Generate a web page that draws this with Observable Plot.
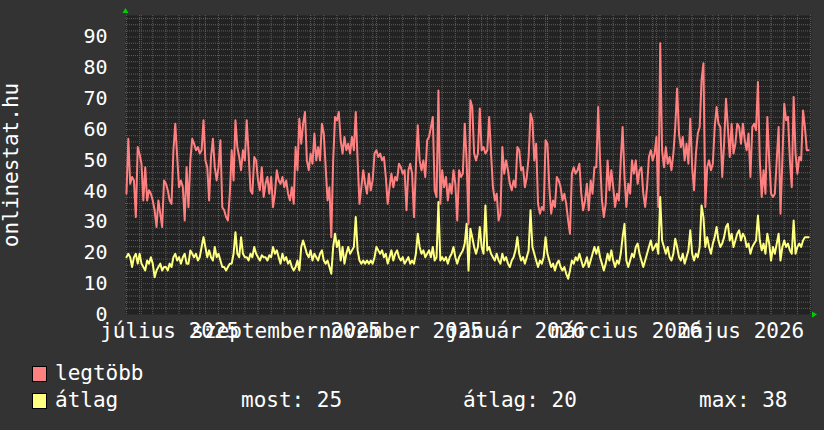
<!DOCTYPE html>
<html><head><meta charset="utf-8">
<script src="https://cdn.jsdelivr.net/npm/d3@7"></script>
<script src="https://cdn.jsdelivr.net/npm/@observablehq/plot@0.6"></script>
<style>
html,body{margin:0;padding:0;background:#333;}
#wrap{position:relative;width:824px;height:430px;background:#333;overflow:hidden;font-family:"DejaVu Sans Mono",monospace;color:#fff;}
#chart svg{display:block;}
.lg{position:absolute;font-size:21px;line-height:21px;white-space:pre;}
.sw{position:absolute;width:13px;height:14px;border:1px solid #000;}
</style></head><body>
<div id="wrap"><div id="chart"></div><div id="legend"></div></div>
<script>
const startDay = "2025-06-23";
const legtobb = [
39.2,57.0,42.4,44.6,43.5,31.6,54.3,52,48.9,37.0,
47.8,37.0,40.3,39.2,37.0,33.8,28.4,37.0,32.7,28.4,
43.5,42.4,40.3,37.0,35.9,53.3,61.9,51.1,41.3,43.5,
41.3,30.5,47.8,34.8,50.0,57.0,55.4,53.3,54.3,52.2,
53.3,63.0,50.0,47.8,37.0,51.1,57.0,47.8,43.5,47.8,
56.5,34.8,33.8,31.6,30.5,39.2,53.3,43.5,63.0,54.3,
51.1,46.8,53.3,50.0,63.0,52.2,40.3,39.2,51.1,50.0,
43.5,40.3,47.8,38.1,42.4,44.6,39.2,44.6,
34.8,39.2,46.8,43.5,42.4,44.6,41.3,43.5,39.2,37.0,
41.3,35.9,54.3,46.8,63.5,55.4,61.9,65.7,50.0,46.8,
52.2,48.9,58.7,50.0,54.3,50.0,61.9,58.7,47.8,37.0,
41.3,25.1,50.0,64.1,63.0,65.7,56.5,52.2,57.6,53.3,
55.4,52.2,57.6,53.3,65.7,50.0,35.9,41.3,46.8,42.4,
39.2,45.7,40.3,43.5,52.2,53.3,51.1,52.2,50.0,51.1,
44.6,35.9,41.3,45.7,41.3,44.6,43.5,48.9,
47.8,45.7,46.8,33.8,46.8,48.9,45.7,31.6,47.8,61.4,
50.0,46.8,50.0,44.6,56.5,57.6,60.8,64.1,40.3,38.1,
72.7,35.9,46.8,41.3,44.6,37.0,42.4,39.2,46.8,42.4,
30.5,46.8,44.6,45.7,61.9,50.0,29.4,69.5,67.3,52.2,
50.0,52.2,66.8,53.3,54.3,52.2,53.3,64.1,52.2,41.3,
37.0,39.2,30.5,32.7,54.3,45.7,50.0,46.8,42.4,40.3,
43.5,41.3,54.3,53.3,46.8,47.8,41.3,44.6,51.1,65.2,
63.0,50.0,55.4,35.9,32.7,34.9,33.8,56.5,55.4,41.3,
32.7,37.0,34.9,44.6,43.5,41.3,37.0,39.2,35.9,30.5,
26.2,45.7,47.8,45.7,46.8,48.9,39.2,33.8,37.0,42.4,
33.8,43.5,39.2,47.8,47.8,67.3,50.0,37.0,31.6,35.9,
50.0,40.3,46.8,41.3,34.9,39.2,37.0,50.0,60.8,44.6,
34.9,42.4,39.2,50.0,45.7,50.0,42.4,46.8,47.8,39.2,
34.9,41.3,51.1,53.3,50.0,52.2,57.6,34.9,88.0,53.3,
47.8,54.3,48.9,51.1,46.8,52.2,60.8,73.3,58.7,54.3,
57.6,50.0,55.4,48.9,63.5,47.8,40.3,52.2,58.7,60.8,
76.0,81.5,34.9,47.8,50.0,46.8,48.9,60.8,67.3,61.9,
60.8,44.6,55.4,70.0,60.8,51.1,61.9,52.2,55.4,61.9,
60.8,55.4,61.9,56.5,53.3,58.7,44.6,60.8,61.9,59.8,
75.4,50.0,38.1,46.8,39.2,64.1,50.0,39.2,38.1,39.2,
50.0,60.8,32.7,50.0,68.4,63.0,64.1,50.0,41.3,70.6,
52.2,45.7,51.1,50.0,66.2,60.8,53.3,53.3
];
const atlag = [
18.6,19.7,18.6,15.4,18.6,19.7,16.5,19.7,16.5,15.4,
14.3,17.5,16.5,18.6,16.5,12.1,14.3,15.4,16.5,14.3,
15.4,15.4,14.3,16.5,15.4,18.6,19.7,17.5,18.6,16.5,
18.6,19.7,16.5,16.5,20.8,19.7,18.6,19.7,17.5,18.6,
21.9,25.1,21.9,18.6,20.8,18.6,17.5,21.9,18.6,19.7,
17.5,15.4,15.4,14.3,15.4,16.5,16.5,19.7,26.7,19.7,
18.6,25.1,19.7,18.6,18.6,17.5,19.7,18.6,21.9,19.7,
18.6,17.5,19.2,18.6,18.6,17.5,19.2,18.6,
21.9,19.7,20.8,18.6,16.5,19.7,17.5,18.6,16.5,17.5,
15.4,14.3,15.4,17.5,14.3,21.9,24.0,21.9,19.7,18.6,
20.8,17.5,19.7,18.6,17.5,19.7,20.8,17.5,16.5,17.5,
15.4,13.2,21.9,26.2,21.9,24.0,17.5,21.9,16.5,19.7,
21.9,19.7,20.8,21.9,31.6,20.8,17.5,16.5,17.5,16.5,
17.5,16.5,17.5,16.5,18.6,21.9,20.8,19.7,20.8,18.6,
19.7,16.5,18.6,20.8,17.5,19.7,20.8,18.6,
17.5,18.6,16.5,17.5,18.6,16.5,17.5,16.5,19.7,26.2,
21.9,19.7,20.8,18.6,19.7,20.8,18.6,21.9,17.5,18.6,
36.5,17.5,18.6,17.5,18.6,16.5,18.6,19.7,21.9,18.6,
16.5,18.6,19.7,20.8,23.0,29.4,14.3,27.8,25.1,21.9,
19.7,21.9,28.4,21.9,19.7,35.4,20.8,21.9,19.7,18.6,
17.5,19.7,17.5,16.5,19.7,17.5,18.6,16.5,15.4,17.5,
18.6,20.8,25.1,19.7,17.5,18.6,16.5,18.6,20.8,33.8,
21.9,19.7,17.5,15.4,17.5,16.5,18.6,25.1,19.7,17.5,
15.4,16.5,14.3,16.5,17.5,15.4,14.3,15.4,13.2,11.6,
14.3,17.5,16.5,18.6,17.5,19.7,17.5,15.4,16.5,18.6,
15.4,17.5,19.7,21.9,19.7,21.9,18.6,16.5,14.3,16.5,
19.7,17.5,20.8,17.5,15.4,17.5,16.5,19.7,25.1,29.4,
17.5,15.4,17.5,19.7,18.6,21.9,23.0,19.7,17.5,15.4,
17.5,19.7,21.9,24.0,20.8,21.9,23.0,19.7,38.1,24.0,
21.9,19.7,21.9,18.6,17.5,19.7,24.6,21.9,18.6,17.5,
19.7,16.5,18.6,20.8,27.3,19.7,17.5,19.7,18.6,21.9,
35.4,31.6,21.9,25.1,21.9,19.7,23.0,25.1,28.4,24.0,
21.9,23.0,25.1,28.4,29.4,24.0,26.2,21.9,24.0,26.2,
27.3,24.0,26.2,25.1,21.9,23.0,19.7,21.9,23.0,24.0,
32.1,24.0,20.8,23.0,19.7,26.2,23.0,17.5,21.9,19.7,
23.0,26.2,17.5,21.9,24.0,21.9,23.0,20.8,19.7,30.5,
19.7,21.9,23.0,21.9,24.0,25.1,25.1,25.1
];
const monthStarts = ["2025-07-01","2025-09-01","2025-11-01","2026-01-01","2026-03-01","2026-05-01"];
const monthLabels = ["július 2025","szeptember 2025","november 2025","január 2026","március 2026","május 2026"];
const yTicks = [0,10,20,30,40,50,60,70,80,90];
const yTitle = "onlinestat.hu";
const seriesNames = ["legtöbb","átlag"];
const seriesColors = ["#ff8080","#ffff80"];
const legendStats = [["most",25],["átlag",20],["max",38]];
const xDomain = ["2025-06-22T12:00:00Z","2026-06-22T12:00:00Z"];
const yDomain = [0,97];

const parse = d3.utcParse("%Y-%m-%d");
const start = parse(startDay);
const rows = legtobb.map((v,i)=>({date: d3.utcDay.offset(start,i), max: v, avg: atlag[i]}));
const x0 = new Date(xDomain[0]), x1 = new Date(xDomain[1]);
const weeks = d3.utcMonday.range(x0, x1);
const months = d3.utcMonth.range(x0, x1);
const yMinor = d3.range(2, yDomain[1], 2).filter(v => v % 10 !== 0);
const yMajor = d3.range(10, yDomain[1], 10);
const labelTimes = monthStarts.map(s => d3.utcDay.offset(parse(s), 15));
const labelMap = new Map(labelTimes.map((t,i)=>[+t, monthLabels[i]]));

const arrowUp = {draw(c){ c.moveTo(0,-3.5); c.lineTo(3,1.5); c.lineTo(-3,1.5); c.closePath(); }};
const arrowRight = {draw(c){ c.moveTo(3.5,0); c.lineTo(-1.5,3); c.lineTo(-1.5,-3); c.closePath(); }};

const font = "DejaVu Sans Mono";
const minorStyle = {stroke:"#5e5e5e", strokeDasharray:"1,1"};
const majorStyle = {stroke:"#8e3a3a", strokeDasharray:"1,1"};

const chart = Plot.plot({
  width: 824, height: 345,
  marginLeft: 125, marginRight: 13, marginTop: 15, marginBottom: 31,
  style: {background: "transparent", fontFamily: font, color: "#fff"},
  x: {type: "utc", domain: [x0, x1]},
  y: {domain: yDomain},
  marks: [
    Plot.frame({fill: "#222", stroke: "none"}),
    Plot.ruleX(weeks, minorStyle),
    Plot.ruleY(yMinor, minorStyle),
    Plot.ruleX(months, majorStyle),
    Plot.ruleY(yMajor, majorStyle),
    Plot.line(rows, {x: "date", y: "max", stroke: seriesColors[0], strokeWidth: 2}),
    Plot.line(rows, {x: "date", y: "avg", stroke: seriesColors[1], strokeWidth: 2}),
    Plot.axisY({ticks: yTicks, tickSize: 0, tickPadding: 18, fontSize: 20, label: null, tickFormat: d => String(d)}),
    Plot.axisX({ticks: labelTimes, tickSize: 0, tickPadding: 9, fontSize: 21, label: null, tickFormat: d => labelMap.get(+d)}),
    Plot.text([yTitle], {frameAnchor: "left", text: d => d, textAnchor: "middle", lineAnchor: "middle", rotate: -90, dx: -114, fontSize: 21, fill: "#fff"}),
    Plot.dot([0], {frameAnchor: "top-left", symbol: arrowUp, r: 3, fill: "#00d000", stroke: "none", dy: -4}),
    Plot.dot([0], {frameAnchor: "bottom-right", symbol: arrowRight, r: 3, fill: "#00d000", stroke: "none", dx: 2})
  ]
});
document.getElementById("chart").appendChild(chart);

const lg = document.getElementById("legend");
function add(html){ lg.insertAdjacentHTML("beforeend", html); }
seriesNames.forEach((n,i)=>{
  const top = 366 + i*27;
  add(`<div class="sw" style="left:32px;top:${top}px;background:${seriesColors[i]}"></div>`);
  add(`<div class="lg" style="left:55px;top:${top-3}px">${n}</div>`);
});
const statX = [241, 463, 699];
legendStats.forEach(([k,v],i)=>{
  add(`<div class="lg" style="left:${statX[i]}px;top:${366+27-3}px">${k}: ${v}</div>`);
});
</script>
</body></html>
